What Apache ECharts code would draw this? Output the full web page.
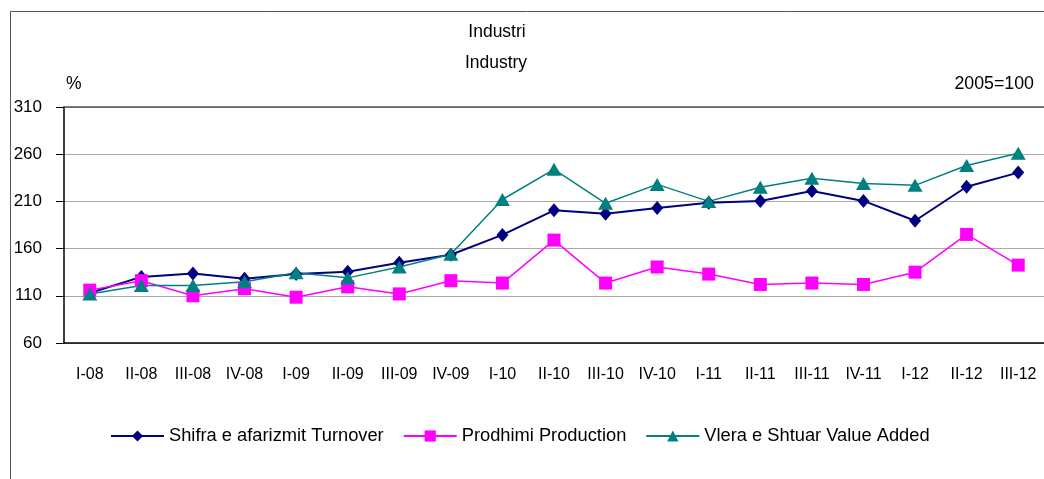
<!DOCTYPE html>
<html>
<head>
<meta charset="utf-8">
<script src="https://cdn.jsdelivr.net/npm/echarts@6/dist/echarts.min.js"></script>
<style>
  html, body { margin: 0; padding: 0; background: #fff; }
  #chart { width: 1044px; height: 479px; }
</style>
</head>
<body>
<div id="chart"></div>
<script>
  // quarters on the x axis
  const quarters = ['I-08', 'II-08', 'III-08', 'IV-08', 'I-09', 'II-09', 'III-09', 'IV-09',
    'I-10', 'II-10', 'III-10', 'IV-10', 'I-11', 'II-11', 'III-11', 'IV-11', 'I-12', 'II-12', 'III-12'];

  // indices, 2005=100
  const turnover = [113, 130, 133.5, 128, 133, 135.5, 145, 153.5, 174.5, 200.5, 197, 203, 208.5, 210.5, 221, 210.5, 189.5, 225.5, 240.5];
  const production = [116, 126, 110, 117.5, 108.5, 119.5, 112, 126, 123.5, 169, 123.5, 140.5, 133, 122, 123.5, 122, 135, 175, 142.5];
  const valueAdded = [112, 121, 121, 125, 134.5, 129, 140.5, 154, 212, 244, 208, 228, 210, 225, 234.5, 229, 227, 248, 261];

  const seriesNames = ['Shifra e afarizmit Turnover', 'Prodhimi Production', 'Vlera e Shtuar Value Added'];
  const yTicks = { min: 60, max: 310, interval: 50 };

  const font = '"Liberation Sans", Arial, sans-serif';
  const plainText = (size) => ({ fontFamily: font, fontSize: size, fontWeight: 'normal', color: '#000' });

  const chart = echarts.init(document.getElementById('chart'));
  const option = {
    animation: false,
    backgroundColor: '#fff',
    textStyle: { fontFamily: font, color: '#000' },
    title: [
      { text: 'Industri', left: 497, top: 23, padding: 0, textAlign: 'center', textStyle: plainText(17.5) },
      { text: 'Industry', left: 496, top: 54, padding: 0, textAlign: 'center', textStyle: plainText(17.5) },
      { text: '%', left: 66, top: 75, padding: 0, textStyle: plainText(17.5) },
      { text: '2005=100', right: 10, top: 75, padding: 0, textStyle: plainText(17.8) }
    ],
    graphic: [{
      type: 'rect',
      shape: { x: 10.5, y: 11.5, width: 1100, height: 600 },
      style: { fill: 'none', stroke: '#555', lineWidth: 1 },
      silent: true
    }],
    legend: {
      left: 110, top: 427, padding: 0,
      itemWidth: 53, itemHeight: 14, itemGap: 19,
      textStyle: { fontFamily: font, fontSize: 18.3, color: '#000' },
      data: seriesNames
    },
    grid: { left: 64, top: 107, width: 988, height: 236 },
    xAxis: [{
      type: 'category',
      data: quarters,
      boundaryGap: true,
      axisLine: { lineStyle: { color: '#000', width: 1.5 } },
      axisTick: { length: 7, lineStyle: { color: '#000' } },
      axisLabel: { interval: 0, margin: 24, fontFamily: font, fontSize: 16, color: '#000' },
      splitLine: { show: false }
    }, {
      type: 'category',
      data: quarters,
      position: 'top',
      axisLine: { lineStyle: { color: '#555', width: 1.5 } },
      axisTick: { show: false },
      axisLabel: { show: false }
    }],
    yAxis: {
      type: 'value',
      min: yTicks.min, max: yTicks.max, interval: yTicks.interval,
      axisLine: { show: true, lineStyle: { color: '#000', width: 1.5 } },
      axisTick: { show: true, length: 8, lineStyle: { color: '#000' } },
      axisLabel: { margin: 22, fontFamily: font, fontSize: 17, color: '#000' },
      splitLine: { show: true, lineStyle: { color: '#aaa', width: 1 } }
    },
    series: [
      {
        name: seriesNames[0], type: 'line', data: turnover,
        symbol: 'diamond', symbolSize: [12, 14],
        itemStyle: { color: '#000080' },
        lineStyle: { color: '#000080', width: 2 }
      },
      {
        name: seriesNames[1], type: 'line', data: production,
        symbol: 'rect', symbolSize: 13,
        itemStyle: { color: '#ff00ff' },
        lineStyle: { color: '#ff00ff', width: 1.5 }
      },
      {
        name: seriesNames[2], type: 'line', data: valueAdded,
        symbol: 'triangle', symbolSize: [15, 13],
        itemStyle: { color: '#008080' },
        lineStyle: { color: '#008080', width: 1.5 }
      }
    ]
  };
  chart.setOption(option);
</script>
</body>
</html>
